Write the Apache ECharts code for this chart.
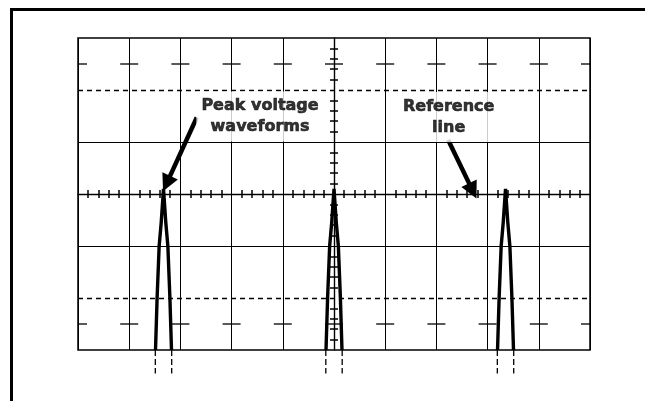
<!DOCTYPE html>
<html><head><meta charset="utf-8">
<script src="https://cdn.jsdelivr.net/npm/echarts@6/dist/echarts.min.js"></script>
<style>html,body{margin:0;padding:0;background:#fff}#c{width:645px;height:401px}</style>
</head><body><div id="c"></div>
<script>
// Graticule (in divisions)
const xRange = [-5, 5];
const yRange = [-3, 3];
const solidRows = [-1, 1];
const dashedRows = [-2, 2];
const crossRows = [2.5, -2.5];
const crossCols = [-5, -4, -3, -2, -1, 0, 1, 2, 3, 4, 5];
// Peak voltage waveforms
const peakCenters = [-3.33, 0, 3.35];
const peakShapeX = [-0.156, -0.125, -0.085, -0.045, 0, 0.045, 0.085, 0.125, 0.156];
const peakShapeY = [-3, -2, -1, -0.55, 0.1, -0.55, -1, -2, -3];
const tailOffsets = [-0.16, 0.16];
const tailY = [-3, -3.45];
// Annotations
const labelTexts = ['Peak voltage\nwaveforms', 'Reference\nline'];
const labelX = [-1.445, 2.24];
const labelY = [1.49, 1.48];
const arrowFrom = [[-2.68, 1.47], [2.23, 1.04]];
const arrowTo = [[-3.27, 0.2], [2.71, 0.06]];

const chart = echarts.init(document.getElementById('c'), null, {renderer: 'canvas'});
const black = '#000';

function centerAxis(kind, range, position, main) {
  return {
    type: 'value', min: range[0], max: range[1], interval: 1, position: position,
    axisLine: {show: main, onZero: true, lineStyle: {color: black, width: 1.4}},
    axisTick: {show: false, inside: false},
    minorTick: {show: true, splitNumber: 5, length: 4, lineStyle: {color: black, width: 1.5}},
    axisLabel: {show: false},
    splitLine: {show: kind === 'x' && main, lineStyle: {color: black, width: 1}},
    minorSplitLine: {show: false}
  };
}

const series = [];
// horizontal graticule rows
series.push({
  type: 'line', data: [], silent: true, z: 1,
  markLine: {
    silent: true, symbol: ['none', 'none'], label: {show: false}, animation: false,
    lineStyle: {color: black, width: 1, type: 'solid'},
    data: solidRows.map(v => ({yAxis: v}))
  }
});
series.push({
  type: 'line', data: [], silent: true, z: 1,
  markLine: {
    silent: true, symbol: ['none', 'none'], label: {show: false}, animation: false,
    lineStyle: {color: black, width: 1.3, type: [5, 4]},
    data: dashedRows.map(v => ({yAxis: v}))
  }
});
// cross marks on vertical lines
series.push({
  type: 'custom', clip: true, silent: true, z: 1,
  data: crossRows.flatMap(y => crossCols.map(x => [x, y])),
  renderItem: (p, api) => {
    const c = api.coord([api.value(0), api.value(1)]);
    return {type: 'line', shape: {x1: c[0] - 9, y1: c[1], x2: c[0] + 9, y2: c[1]},
      style: {stroke: black, lineWidth: 1.3}};
  }
});
// peaks
peakCenters.forEach(c => {
  series.push({
    type: 'line', symbol: 'none', silent: true, clip: false, z: 5,
    lineStyle: {color: black, width: 3.4, join: 'miter'},
    data: peakShapeX.map((dx, i) => [c + dx, peakShapeY[i]])
  });
  tailOffsets.forEach(o => {
    series.push({
      type: 'line', symbol: 'none', silent: true, clip: false, z: 5,
      lineStyle: {color: black, width: 1.3, type: [6, 3]},
      data: tailY.map(y => [c + o, y])
    });
  });
});
// labels with white mask
series.push({
  type: 'scatter', silent: true, z: 10, symbolSize: 1,
  itemStyle: {color: 'rgba(0,0,0,0)'},
  label: {
    show: true, position: 'inside', formatter: p => p.name,
    fontFamily: 'DejaVu Sans', fontWeight: 'bold', fontSize: 16, lineHeight: 21,
    color: '#000', textBorderColor: '#000', textBorderWidth: 0.6,
    align: 'center', backgroundColor: '#fff', padding: [4, 5, 4, 5]
  },
  data: labelTexts.map((t, i) => ({name: t, value: [labelX[i], labelY[i]]}))
});
// arrows
series.push({
  type: 'line', data: [], silent: true, z: 20,
  markLine: {
    silent: true, animation: false, symbol: ['none', 'triangle'], symbolSize: 17,
    label: {show: false},
    lineStyle: {color: black, width: 4.5, type: 'solid'},
    data: arrowFrom.map((f, i) => [{coord: f}, {coord: arrowTo[i]}])
  }
});

chart.setOption({
  animation: false,
  backgroundColor: '#fff',
  grid: {left: 78, top: 38, width: 512, height: 312, show: true, borderColor: black,
    borderWidth: 1.5, backgroundColor: 'transparent', containLabel: false, outerBoundsMode: 'none'},
  xAxis: [centerAxis('x', xRange, 'bottom', true), centerAxis('x', xRange, 'top', false)],
  yAxis: [centerAxis('y', yRange, 'left', true), centerAxis('y', yRange, 'right', false)],
  graphic: [
    {type: 'line', shape: {x1: 11.5, y1: 8, x2: 11.5, y2: 401}, style: {stroke: black, lineWidth: 3}},
    {type: 'line', shape: {x1: 10, y1: 9.5, x2: 645, y2: 9.5}, style: {stroke: black, lineWidth: 3}}
  ],
  series: series
});
</script></body></html>
